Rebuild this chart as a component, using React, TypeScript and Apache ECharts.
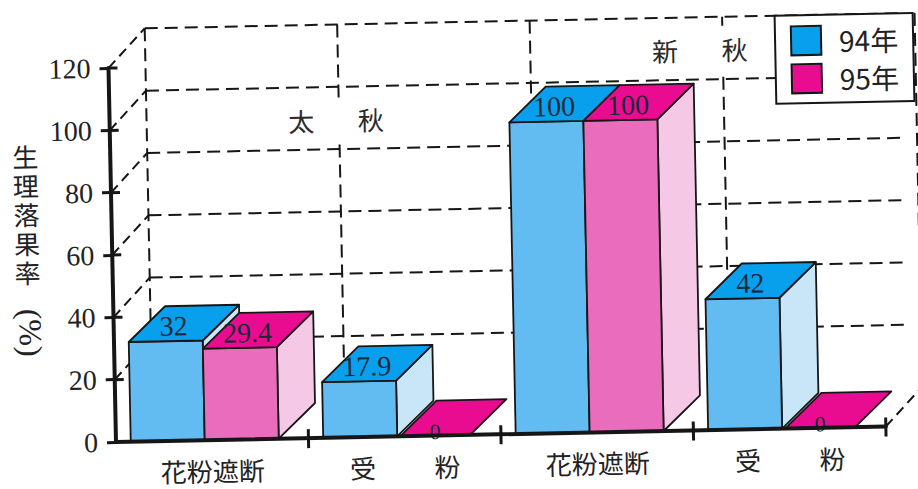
import React, { useEffect, useRef } from "react";
import * as echarts from "echarts";

// ---- data ----
const categories = ["花粉遮断", "受　 　粉", "花粉遮断", "受　 　粉"];
const values94 = [32, 17.9, 100, 42];
const values95 = [29.4, 0, 100, 0];
const yTicks = [20, 40, 60, 80, 100, 120];
const seasonLabels = ["太　   秋", "新　   秋"];
const yTitle = "生理落果率";
const yUnit = "(%)";

// ---- styling ----
const SERIF = "'Liberation Serif', serif";
const CJK = "'Noto Sans CJK JP', sans-serif";
const AXIS_CJK = "'Liberation Serif', 'Noto Sans CJK JP', sans-serif";
const INK = "#161616";
const BLUE = { front: "#62BBF1", top: "#08A0EC", side: "#C8E6F8" };
const PINK = { front: "#EA6DBD", top: "#E90C90", side: "#F5C8E6" };
const GRID = { left: 116, top: 68, width: 770, height: 374 };
const TILT_DEG = 1.15;
const BAR_W = 74;
const BAR_SHIFT = -7.5;
const BAR_DEPTH = [37, -35];
const WALL_DEPTH = [37, -39];

const line = (x1: number, y1: number, x2: number, y2: number, style: any) => ({
  type: "line",
  silent: true,
  shape: { x1, y1, x2, y2 },
  style: { stroke: INK, fill: "none", ...style },
});

const renderWall = (params: any, api: any) => {
  const band = api.size([1, 0])[0];
  const origin = api.coord([0, 0]);
  const left = origin[0] - band / 2;
  const base = origin[1];
  const right = left + band * 4;
  const [dx, dy] = WALL_DEPTH;
  const topY = api.coord([0, 120])[1] + dy;
  const dash = { lineWidth: 2, lineDash: [13, 7] };
  const diag = { lineWidth: 2, lineDash: [10, 6] };
  const solid = { lineWidth: 3 };
  const children: any[] = [];
  // back wall verticals
  for (let i = 0; i <= 4; i++) {
    const x = left + dx + band * i;
    children.push(line(x, topY, x, base + dy, dash));
  }
  // back wall horizontals and the diagonals back from the axis
  yTicks.forEach((t) => {
    const y = api.coord([0, t])[1];
    children.push(line(left + dx, y + dy, right + dx - 16, y + dy, dash));
    children.push(line(left, y, left + dx, y + dy, diag));
    children.push(line(left, y, left + 9, y, solid));
  });
  children.push(line(right, base, right + dx, base + dy, diag));
  // season labels on the wall
  children.push({
    type: "text",
    silent: true,
    style: {
      text: seasonLabels[0], x: left + band + 34, y: base - 318,
      fill: "#2a2a2a", fontSize: 26, fontFamily: CJK,
      align: "center", verticalAlign: "middle",
      backgroundColor: "#fff", padding: [6, 0],
    },
  });
  children.push({
    type: "text",
    silent: true,
    style: {
      text: seasonLabels[1], x: left + band * 3 + 14, y: base - 381,
      fill: "#2a2a2a", fontSize: 26, fontFamily: CJK,
      align: "center", verticalAlign: "middle",
      backgroundColor: "#fff", padding: [12, 0, 8, 0],
    },
  });
  // x axis ticks on the band edges
  for (let i = 1; i <= 4; i++) {
    const x = left + band * i;
    children.push(line(x, base - 9, x, base + 10, solid));
  }
  return { type: "group", children };
};

const makeBar = (colors: typeof BLUE, offset: number) => (params: any, api: any) => {
  const cat = api.value(0);
  const v = api.value(1);
  const p0 = api.coord([cat, 0]);
  const p1 = api.coord([cat, v]);
  const flat = v === 0;
  const x0 = p0[0] + BAR_SHIFT + offset + (flat ? 3 : 0);
  const w = flat ? BAR_W - 4 : BAR_W;
  const x1 = x0 + w;
  const yb = p0[1];
  const yt = p1[1];
  const [dx, dy] = BAR_DEPTH;
  const edge = { stroke: INK, lineWidth: 1.8, lineJoin: "round" };
  const poly = (points: number[][], fill: string) => ({
    type: "polygon",
    shape: { points },
    style: { fill, ...edge },
  });
  const children: any[] = [];
  if (!flat) {
    children.push(poly([[x1, yt], [x1 + dx, yt + dy], [x1 + dx, yb + dy], [x1, yb]], colors.side));
    children.push(poly([[x0, yt], [x1, yt], [x1, yb], [x0, yb]], colors.front));
  }
  children.push(poly([[x0, yt], [x0 + dx, yt + dy], [x1 + dx, yt + dy], [x1, yt]], colors.top));
  children.push({
    type: "text",
    silent: true,
    style: {
      text: String(v),
      x: (x0 + x1) / 2 + (flat ? 0 : 8),
      y: yt + (flat ? -4 : -15),
      fill: "#17283a",
      fontSize: flat ? 22 : 28,
      fontFamily: SERIF,
      align: "center",
      verticalAlign: "middle",
    },
  });
  return { type: "group", children };
};

const App = () => {
  const ref = useRef<HTMLDivElement>(null);
  useEffect(() => {
    if (!ref.current) return;
    const chart = echarts.init(ref.current, null, { renderer: "svg" });
    chart.setOption({
      animation: false,
      backgroundColor: "#fff",
      grid: { ...GRID, containLabel: false },
      legend: {
        left: 783,
        top: 29,
        orient: "vertical",
        data: [{ name: "94年", icon: "rect" }, { name: "95年", icon: "rect" }],
        selectedMode: false,
        backgroundColor: "#fff",
        borderColor: INK,
        borderWidth: 2,
        borderRadius: 0,
        padding: [10, 15, 9, 15],
        itemWidth: 30,
        itemHeight: 29,
        itemGap: 7,
        itemStyle: { borderColor: INK, borderWidth: 2 },
        textStyle: { fontSize: 28, fontFamily: CJK, color: "#222", padding: [0, 0, 0, 13] },
        z: 10,
      },
      xAxis: {
        type: "category",
        data: categories,
        z: 5,
        axisLine: { lineStyle: { color: INK, width: 4 } },
        axisTick: { show: false },
        axisLabel: { fontSize: 26, fontFamily: AXIS_CJK, color: "#222", margin: 20, interval: 0 },
      },
      yAxis: {
        type: "value",
        min: 0,
        max: 120,
        interval: 20,
        z: 5,
        axisLine: { show: true, lineStyle: { color: INK, width: 4 } },
        axisTick: { show: true, length: 9, lineStyle: { color: INK, width: 3 } },
        axisLabel: { fontSize: 28, fontFamily: SERIF, color: "#222", margin: 18 },
        splitLine: { show: false },
      },
      graphic: [
        {
          type: "text",
          silent: true,
          x: 31,
          y: 212,
          style: {
            text: yTitle.split("").join("\n"),
            fill: "#222",
            fontSize: 26,
            lineHeight: 29,
            fontFamily: CJK,
            textAlign: "center",
            textVerticalAlign: "middle",
          },
        },
        {
          type: "text",
          silent: true,
          x: 33,
          y: 331,
          rotation: -Math.PI / 2,
          style: {
            text: yUnit,
            fill: "#222",
            fontSize: 32,
            fontFamily: SERIF,
            textAlign: "center",
            textVerticalAlign: "middle",
          },
        },
      ],
      series: [
        {
          type: "custom",
          name: "wall",
          coordinateSystem: "cartesian2d",
          silent: true,
          clip: false,
          z: 1,
          data: [[0, 0]],
          renderItem: renderWall,
        },
        {
          type: "custom",
          name: "94年",
          coordinateSystem: "cartesian2d",
          clip: false,
          z: 2,
          itemStyle: { color: BLUE.top },
          encode: { x: 0, y: 1 },
          data: values94.map((v, i) => [i, v]),
          renderItem: makeBar(BLUE, -BAR_W),
        },
        {
          type: "custom",
          name: "95年",
          coordinateSystem: "cartesian2d",
          clip: false,
          z: 3,
          itemStyle: { color: PINK.top },
          encode: { x: 0, y: 1 },
          data: values95.map((v, i) => [i, v]),
          renderItem: makeBar(PINK, 0),
        },
      ],
    });
    return () => chart.dispose();
  }, []);
  return (
    <div style={{ position: "fixed", left: 0, top: 0, width: 918, height: 489, overflow: "hidden", background: "#fff" }}>
      <div
        ref={ref}
        style={{
          width: 960,
          height: 530,
          transform: `rotate(-${TILT_DEG}deg)`,
          transformOrigin: `${GRID.left}px ${GRID.top + GRID.height}px`,
        }}
      />
    </div>
  );
};

export default App;
